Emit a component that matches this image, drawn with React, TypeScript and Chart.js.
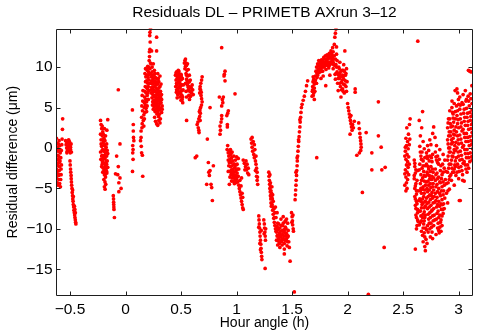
import React, { useEffect, useRef } from "react";
import { Chart, registerables } from "chart.js";

Chart.register(...registerables);

// ---- data (hour angle [h], residual difference [µm]) ----
const clusterA: number[][] = [
  [-0.622,1.2],[-0.618,0.6],[-0.612,0.1],[-0.605,-0.4],[-0.598,0.9],[-0.592,0.3],[-0.62,-0.9],[-0.614,-1.4],[-0.607,-1.9],[-0.6,-1.1],[-0.594,-2.3],[-0.588,-0.6],[-0.621,-2.6],[-0.616,-3.1],[-0.61,-2.2],[-0.603,-3.4],[-0.597,-2.8],[-0.59,-1.6],[-0.584,-3.9],[-0.619,-3.8],[-0.612,-4.3],[-0.606,-4.6],[-0.6,-3.9],[-0.593,-4.4],[-0.586,-4.8],[-0.58,-3.3],[-0.577,-2.1],[-0.574,0.4],[-0.571,1.1],[-0.568,2.3],[-0.566,3.6],[-0.578,-0.3],[-0.583,-1.2],
  [-0.615,-0.3],[-0.608,-0.9],[-0.603,-1.5],[-0.596,-1.8],[-0.61,-2.8],[-0.595,-3.3],[-0.617,-1.9],[-0.605,0.5],[-0.59,-0.2],[-0.58,-2.6],
];
const clusterB: number[][] = [
  [-0.54,0.9],[-0.535,0.4],[-0.53,0.0],[-0.525,-0.4],[-0.52,0.7],[-0.515,0.2],[-0.51,-0.3],[-0.505,0.8],[-0.5,0.3],[-0.495,-0.2],[-0.49,0.5],[-0.487,-0.5],[-0.528,-0.6],[-0.512,1.0],[-0.498,-0.6],
  [-0.52,-0.1],[-0.508,0.5],[-0.495,0.1],[-0.53,0.6],
  [-0.5,-1.6],[-0.498,-2.1],[-0.495,-2.6],[-0.493,-3.0],[-0.49,-3.4],[-0.489,-3.8],[-0.487,-4.2],[-0.485,-4.6],[-0.482,-5.0],[-0.48,-5.5],[-0.477,-5.9],[-0.475,-6.3],[-0.472,-6.6],[-0.47,-7.0],[-0.467,-7.3],[-0.464,-7.7],[-0.461,-8.0],[-0.458,-8.3],[-0.455,-8.6],[-0.452,-8.9],[-0.449,-9.2],[-0.447,-9.4],[-0.46,-7.2],[-0.47,-6.0],[-0.476,-5.2],[-0.452,-8.0],[-0.456,-7.6],
];
const clusterC: number[][] = [
  [-0.225,3.4],[-0.16,3.5],[-0.22,2.9],[-0.215,2.4],[-0.205,2.0],[-0.225,1.7],[-0.21,1.5],[-0.195,1.2],[-0.185,0.9],[-0.22,1.0],[-0.2,0.6],[-0.19,0.3],[-0.175,0.1],[-0.215,0.2],[-0.205,-0.2],[-0.195,-0.4],[-0.18,-0.6],[-0.165,-0.3],[-0.225,-0.5],[-0.21,-0.9],[-0.198,-1.1],[-0.185,-1.3],[-0.17,-1.0],[-0.16,-0.7],[-0.222,-1.4],[-0.208,-1.7],[-0.192,-1.9],[-0.178,-2.1],[-0.165,-1.6],[-0.215,-2.3],[-0.2,-2.5],[-0.188,-2.8],[-0.175,-2.6],[-0.16,-2.4],[-0.205,-3.0],[-0.19,-3.3],[-0.18,-3.6],[-0.168,-3.1],[-0.195,-3.9],[-0.185,-4.2],[-0.178,-4.5],[-0.19,-4.8],[-0.184,-5.1],[-0.2,0.9],[-0.18,1.5],[-0.17,0.5],[-0.21,2.7],[-0.168,2.2],
  [-0.22,0.5],[-0.21,-0.3],[-0.2,-1.4],[-0.19,-0.9],[-0.185,-2.3],[-0.175,-1.7],[-0.17,-2.9],[-0.195,-2.9],[-0.21,-2.0],[-0.215,-1.0],[-0.2,1.7],[-0.19,2.4],[-0.18,-0.2],[-0.17,-2.0],[-0.183,-3.3],
  [-0.11,-5.9],[-0.108,-6.3],[-0.107,-6.7],[-0.106,-7.0],[-0.105,-7.3],[-0.104,-7.6],[-0.1,-8.6],
  [-0.065,7.2],[-0.05,0.5],[-0.08,-1.0],[-0.065,-2.3],[-0.09,-3.2],[-0.07,-3.3],[-0.05,-3.7],[-0.06,-4.3],[-0.04,-5.0],[-0.06,-5.4],
];
const clusterD: number[][] = [
  [0.062,4.7],[0.07,2.9],[0.07,2.1],[0.072,1.3],[0.075,0.9],[0.065,0.3],[0.068,-0.2],[0.065,-0.6],[0.068,-1.4],[0.063,-2.9],[0.155,-3.5],
];
const clusterE: number[][] = [
  [0.135,0.9],[0.14,1.3],[0.142,0.2],[0.145,-0.6],[0.14,2.1],[0.148,2.5],[0.15,3.0],[0.145,3.8],[0.153,4.6],[0.147,5.2],[0.155,5.8],[0.15,6.5],[0.157,7.1],[0.152,-0.9],
  [0.16,3.4],[0.165,4.1],[0.168,5.0],[0.17,5.6],[0.172,6.3],[0.175,7.0],[0.178,7.6],[0.18,8.2],[0.183,8.8],[0.165,2.7],[0.17,3.6],[0.174,4.4],[0.178,5.3],[0.182,6.0],[0.185,6.8],[0.188,7.5],[0.19,8.3],[0.193,9.0],[0.195,9.6],[0.2,10.1],[0.185,4.9],[0.19,5.7],[0.195,6.5],[0.198,7.3],[0.2,8.0],[0.203,8.7],[0.207,9.4],[0.21,10.0],[0.205,6.0],[0.21,7.1],[0.175,9.2],[0.18,9.8],
  [0.213,10.8],[0.216,11.3],[0.22,12.2],[0.222,13.1],[0.218,13.9],[0.225,14.7],[0.22,14.3],[0.235,12.0],[0.215,11.9],[0.23,10.4],[0.24,10.0],
  [0.225,9.2],[0.232,8.8],[0.24,9.4],[0.248,8.6],[0.255,9.0],[0.262,8.3],[0.27,8.7],[0.278,8.1],[0.285,8.5],[0.292,7.9],[0.3,8.2],[0.31,7.6],[0.32,7.9],[0.228,8.0],[0.236,7.5],[0.244,7.9],[0.252,7.2],[0.26,7.6],[0.268,7.0],[0.276,7.4],[0.284,6.8],[0.292,7.1],[0.3,6.5],[0.308,6.9],[0.316,6.3],[0.324,6.6],[0.23,6.8],[0.238,6.2],[0.246,6.6],[0.254,5.9],[0.262,6.3],[0.27,5.7],[0.278,6.0],[0.286,5.5],[0.294,5.8],[0.302,5.2],[0.31,5.5],[0.318,4.9],[0.242,5.3],[0.25,4.8],[0.258,5.1],[0.266,4.5],[0.274,4.8],[0.282,4.2],[0.29,4.5],[0.298,3.9],[0.306,4.2],[0.314,3.6],[0.262,3.8],[0.27,3.3],[0.28,3.0],[0.29,2.8],[0.3,3.4],[0.31,3.1],[0.33,5.2],[0.325,4.4],[0.28,13.7],[0.28,12.0],[0.25,10.4],[0.26,9.6],[0.29,9.2],[0.31,8.9],
  [0.19,4.5],[0.195,5.2],[0.2,6.8],[0.205,7.6],[0.21,8.4],[0.215,9.1],[0.22,9.8],[0.225,10.5],[0.23,7.2],[0.235,8.3],[0.24,6.9],[0.245,7.4],[0.25,8.1],[0.255,6.5],[0.26,7.0],[0.265,8.0],[0.27,6.3],[0.275,7.8],[0.28,6.6],[0.285,7.2],[0.29,6.2],[0.295,6.9],[0.3,7.4],[0.305,5.9],[0.31,6.2],[0.315,7.0],[0.245,5.7],[0.255,5.5],[0.265,5.4],[0.275,5.2],[0.285,4.9],[0.295,5.1],[0.305,4.7],[0.32,5.6],[0.325,6.0],[0.33,4.8],[0.2,9.0],[0.205,9.9],[0.215,8.0],[0.245,9.0],[0.265,9.2],[0.295,8.6],
];
const clusterF: number[][] = [
  [0.45,9.0],[0.455,8.4],[0.46,9.4],[0.462,7.8],[0.468,8.8],[0.47,7.2],[0.475,9.6],[0.478,8.2],[0.48,6.8],[0.485,7.6],[0.488,9.0],[0.49,6.3],[0.495,8.4],[0.498,7.0],[0.5,5.9],[0.505,7.8],[0.508,6.5],[0.512,8.6],[0.515,5.6],[0.518,7.2],[0.452,7.6],[0.458,6.9],[0.465,6.2],[0.472,8.0],[0.482,9.2],[0.492,7.4],[0.502,8.9],[0.51,6.0],
  [0.53,10.5],[0.535,9.8],[0.54,11.0],[0.545,9.2],[0.548,10.2],[0.55,8.5],[0.553,9.6],[0.556,7.8],[0.56,8.9],[0.563,7.1],[0.566,8.2],[0.57,6.5],[0.573,7.6],[0.576,6.0],[0.58,7.0],[0.583,8.4],[0.586,6.4],[0.59,7.5],[0.595,6.8],[0.6,7.8],[0.605,7.2],[0.61,6.6],[0.54,8.0],[0.545,7.0],[0.55,6.3],[0.558,10.4],[0.565,9.7],[0.575,9.0],[0.55,3.4],
  [0.455,9.3],[0.46,8.0],[0.465,8.6],[0.47,9.0],[0.475,7.4],[0.48,8.5],[0.485,6.9],[0.49,8.7],[0.495,7.7],[0.5,6.6],[0.505,8.5],[0.51,7.1],[0.515,6.3],[0.52,7.8],[0.46,7.2],[0.47,6.6],[0.48,9.5],[0.49,8.0],[0.5,9.1],[0.54,10.1],[0.55,9.0],[0.56,8.0],[0.57,7.2],[0.58,6.4],[0.59,6.9],[0.6,7.2],[0.555,8.3],[0.565,7.5],[0.575,8.2],[0.585,7.5],[0.535,10.8],[0.545,10.5],
];
const clusterG: number[][] = [
  [0.69,8.8],[0.685,8.4],[0.678,8.0],[0.672,7.6],[0.676,7.2],[0.668,6.8],[0.68,6.5],[0.685,6.1],[0.69,5.7],[0.684,5.3],[0.676,5.0],[0.67,4.7],[0.674,4.3],[0.668,3.9],[0.66,3.6],[0.652,3.2],[0.645,2.9],[0.655,2.5],[0.66,2.2],[0.662,1.9],[0.67,7.3],[0.682,6.9],[0.665,4.5],[0.672,3.4],
  [0.761,5.0],[0.737,1.1],[0.641,-1.0],[0.628,-1.2],[0.746,-1.8],[0.791,-2.2],[0.761,-2.8],[0.755,-3.4],[0.731,-4.5],[0.776,-4.9],[0.782,-6.5],[0.77,-4.5],[0.75,-3.0],
];
const clusterH: number[][] = [
  [0.866,12.4],[0.896,9.5],[0.887,8.9],[0.896,8.3],[0.845,6.3],[0.881,6.3],[0.876,5.6],[0.866,5.2],[0.926,4.6],[0.912,4.0],[0.866,4.0],[0.866,3.6],[0.917,2.9],[0.851,2.7],[0.917,2.6],[0.851,1.7],[0.986,6.7],[0.89,9.1],[0.872,6.0],[0.92,4.3],[0.86,3.2],[0.855,2.2],
];
const clusterI: number[][] = [
  [0.92,0.3],[0.915,-0.2],[0.925,-0.6],[0.93,-1.0],[0.935,-0.4],[0.94,-1.4],[0.945,-0.8],[0.95,-1.8],[0.955,-1.2],[0.96,-2.2],[0.965,-1.6],[0.97,-2.6],[0.975,-2.0],[0.98,-3.0],[0.985,-2.4],[0.99,-3.4],[0.995,-2.8],[1.0,-3.8],[1.005,-3.1],[1.01,-4.2],[1.015,-3.5],[1.02,-2.6],[0.93,-2.2],[0.94,-2.9],[0.95,-3.3],[0.96,-3.7],[0.97,-4.1],[0.98,-4.4],[0.99,-4.0],[0.935,-4.5],[0.925,-2.9],[0.945,-0.2],[0.96,-0.5],[0.975,-1.0],[0.99,-1.5],[1.005,-2.0],[1.015,-1.3],
  [0.925,-1.5],[0.935,-1.8],[0.945,-2.3],[0.955,-2.7],[0.965,-3.1],[0.975,-3.6],[0.985,-3.8],[0.995,-4.3],[0.95,-0.7],[0.965,-2.9],[0.98,-2.0],[0.995,-2.1],[1.01,-2.6],[1.01,-3.5],[0.94,-3.6],[0.955,-4.1],[0.97,-3.4],[1.0,-1.1],
  [1.02,-4.6],[1.025,-5.0],[1.03,-5.4],[1.035,-5.8],[1.04,-6.2],[1.045,-6.6],[1.05,-7.0],[1.055,-7.4],[1.06,-7.6],[1.03,-4.0],[1.04,-4.7],[1.05,-5.6],[1.045,-3.7],[1.055,-6.1],
  [1.06,-1.5],[1.07,-1.9],[1.08,-2.3],[1.09,-2.7],[1.1,-3.1],[1.075,-2.7],[1.085,-1.6],[1.095,-2.0],[1.105,-2.5],[1.11,-3.3],
];
const clusterJ: number[][] = [
  [1.13,1.1],[1.135,0.6],[1.14,0.1],[1.145,-0.4],[1.15,0.8],[1.155,-0.8],[1.16,-1.2],[1.165,-0.2],[1.17,-1.6],[1.175,-2.0],[1.18,-2.5],[1.185,-3.0],[1.18,-3.5],[1.185,-4.0],[1.19,-4.5],[1.175,-1.0],[1.16,0.4],[1.17,-2.8],[1.188,-3.6],[1.14,1.3],
];
const clusterK: number[][] = [
  [1.2,-8.4],[1.202,-8.9],[1.205,-9.4],[1.207,-9.9],[1.21,-10.4],[1.212,-10.9],[1.215,-11.4],[1.218,-11.9],[1.22,-12.4],[1.223,-12.9],[1.226,-13.4],[1.228,-13.8],[1.21,-11.8],[1.215,-12.6],[1.222,-10.2],[1.2,-9.8],
  [1.245,-8.9],[1.25,-9.4],[1.252,-9.9],[1.255,-10.4],[1.258,-10.9],[1.26,-11.4],[1.262,-10.0],[1.248,-10.6],[1.257,-14.9],
];
const clusterL: number[][] = [
  [1.29,-3.0],[1.292,-3.5],[1.295,-4.0],[1.298,-4.5],[1.3,-5.0],[1.303,-5.4],[1.305,-5.9],[1.308,-6.3],[1.31,-6.8],[1.313,-7.2],[1.3,-3.3],[1.305,-4.3],[1.31,-5.3],[1.315,-6.1],[1.32,-7.0],[1.325,-7.7],[1.33,-8.2],[1.335,-8.7],[1.34,-9.2],[1.345,-9.6],[1.33,-6.6],[1.325,-5.8],[1.318,-4.8],[1.338,-7.5],
  [1.35,-10.0],[1.36,-10.4],[1.365,-9.7],[1.37,-10.8],[1.375,-10.1],[1.38,-11.2],[1.385,-10.5],[1.39,-9.9],[1.395,-11.0],[1.4,-10.3],[1.405,-11.6],[1.41,-10.7],[1.415,-9.6],[1.42,-11.2],[1.425,-10.4],[1.43,-11.8],[1.435,-10.9],[1.44,-9.8],[1.445,-11.4],[1.45,-10.6],[1.455,-12.1],[1.46,-11.0],[1.465,-10.2],[1.47,-11.6],[1.36,-11.4],[1.37,-12.0],[1.38,-9.4],[1.39,-12.3],[1.4,-8.8],[1.41,-12.0],[1.42,-8.5],[1.43,-12.5],[1.437,-9.1],[1.45,-8.8],[1.46,-9.3],[1.475,-12.3],[1.482,-14.0],[1.43,-13.1],[1.355,-8.6],[1.365,-8.0],[1.35,-7.3],
  [1.355,-10.3],[1.365,-10.9],[1.375,-11.5],[1.385,-11.8],[1.39,-10.7],[1.4,-11.5],[1.41,-11.3],[1.415,-10.2],[1.42,-10.8],[1.43,-10.1],[1.435,-11.4],[1.44,-10.5],[1.445,-10.0],[1.45,-11.2],[1.455,-10.8],[1.46,-11.6],[1.465,-10.9],[1.37,-9.3],[1.38,-10.0],[1.4,-9.6],[1.42,-9.3],[1.44,-9.0],[1.33,-7.3],[1.322,-6.3],[1.315,-5.6],[1.306,-4.8],[1.34,-8.6],[1.345,-8.0],
  [1.495,-8.0],[1.5,-8.5],[1.503,-9.0],[1.505,-9.5],[1.51,-10.0],[1.512,-10.3],[1.498,-9.2],[1.508,-8.3],[1.52,-17.8],
];
const clusterM: number[][] = [
  [1.527,-6.4],[1.53,-5.8],[1.532,-5.2],[1.535,-4.6],[1.537,-4.0],[1.54,-3.4],[1.542,-2.8],[1.545,-2.2],[1.547,-1.6],[1.55,-1.0],[1.553,-0.4],[1.556,0.2],[1.56,0.8],[1.563,1.4],[1.566,2.0],[1.57,2.6],[1.573,3.2],[1.577,3.8],[1.58,4.4],[1.584,5.0],[1.535,-3.0],[1.545,-1.2],[1.558,1.0],[1.57,3.5],[1.59,5.4],[1.6,5.9],[1.61,6.4],[1.62,7.0],[1.63,7.7],[1.64,8.3],
];
const clusterN: number[][] = [
  [1.68,6.4],[1.682,7.0],[1.685,7.6],[1.688,8.2],[1.69,8.8],[1.695,6.8],[1.7,7.4],[1.705,8.3],[1.71,8.9],[1.715,9.5],[1.72,10.0],[1.725,9.2],[1.73,10.4],[1.735,9.7],[1.74,10.8],[1.745,10.1],[1.75,9.4],[1.755,10.5],[1.76,9.8],[1.765,10.9],[1.77,10.2],[1.775,9.5],[1.78,10.7],[1.785,11.2],[1.79,10.0],[1.795,10.6],[1.8,11.4],[1.805,9.7],[1.81,10.9],[1.815,11.5],[1.82,10.3],[1.825,11.0],[1.83,9.9],[1.835,11.7],[1.84,10.6],[1.845,11.2],[1.85,12.0],[1.855,10.4],[1.86,11.5],[1.865,12.4],[1.87,9.8],[1.875,11.0],[1.88,12.8],[1.885,13.7],[1.89,14.2],[1.895,14.7],[1.887,9.1],[1.89,8.5],[1.895,10.3],[1.9,11.6],[1.905,9.4],[1.91,8.0],[1.915,7.1],[1.92,10.0],[1.925,8.6],[1.93,9.2],[1.935,7.6],[1.94,6.3],[1.945,8.1],[1.95,9.6],[1.955,7.3],[1.96,8.8],[1.962,7.9],[1.965,10.3],[1.97,6.8],[1.975,12.0],[1.98,9.0],[1.985,7.6],[1.99,9.8],[1.995,8.2],[1.803,7.7],[1.76,8.6],[1.78,8.9],[1.84,9.0],[1.722,-1.2],[2.068,7.3],[2.068,6.9],[1.7,6.0],[1.72,8.0],[1.87,10.6],[1.9,12.5],[1.93,10.6],[1.96,9.6],
  [1.685,7.2],[1.69,6.5],[1.695,8.5],[1.7,7.9],[1.705,7.0],[1.71,8.4],[1.715,8.0],[1.72,9.4],[1.725,8.7],[1.73,9.0],[1.735,10.2],[1.74,9.3],[1.745,9.6],[1.75,10.7],[1.755,9.9],[1.76,10.3],[1.765,9.5],[1.77,10.6],[1.775,10.0],[1.78,10.2],[1.785,10.5],[1.79,11.0],[1.795,10.2],[1.8,10.5],[1.805,11.0],[1.81,10.2],[1.815,10.7],[1.82,11.3],[1.825,10.5],[1.83,11.3],[1.835,10.2],[1.84,11.6],[1.845,10.6],[1.85,11.1],[1.855,11.8],[1.86,10.8],[1.865,11.3],[1.87,11.9],[1.875,10.3],[1.88,11.4],[1.885,10.2],[1.89,11.0],[1.895,9.2],[1.9,10.0],[1.905,10.8],[1.91,9.2],[1.915,8.6],[1.92,9.0],[1.925,9.8],[1.93,8.0],[1.935,8.8],[1.94,9.5],[1.945,7.2],[1.95,8.4],[1.955,9.0],[1.96,7.0],[1.965,8.5],[1.97,9.5],[1.975,7.8],[1.98,8.3],[1.985,9.2],[1.99,7.0],
];
const clusterO: number[][] = [
  [2.0,5.5],[2.005,5.0],[2.01,4.6],[2.015,4.2],[2.02,3.8],[2.025,3.4],[2.03,3.0],[2.035,2.6],[2.04,2.2],[2.022,1.7],[2.03,4.0],[2.045,2.9],[2.052,2.5],[2.06,3.3],[2.1,3.1],[2.105,2.4],[2.11,1.8],[2.113,1.3],[2.117,0.9],[2.12,0.5],[2.122,0.1],[2.118,-0.3],[2.106,-0.6],[2.083,-0.9],[2.167,1.9],[2.277,5.7],[2.277,1.5],[2.302,0.1],[2.218,-0.6],[2.218,-2.7],[2.308,-2.7],[2.338,-2.4],[2.133,-5.5],[2.329,-12.3],[2.187,-18.1],[2.632,13.2],
];
const clusterP: number[][] = [
  [2.563,3.6],[2.557,2.9],[2.533,2.5],[2.548,1.7],[2.525,1.2],[2.54,0.8],[2.53,0.3],[2.545,-0.1],[2.52,-0.4],[2.535,-0.8],[2.55,-1.1],[2.525,-1.4],[2.54,-1.7],[2.53,-2.1],[2.545,-2.4],[2.52,-2.7],[2.535,-3.0],[2.55,-3.3],[2.525,-3.6],[2.54,-3.9],[2.53,-4.3],[2.515,-4.6],[2.535,-5.0],[2.525,-5.3],[2.555,0.4],[2.555,-2.0],[2.515,-1.0],[2.515,-3.2],[2.56,1.1],[2.52,0.1],
];
const clusterQ: number[][] = [
  [2.6,-1.5],[2.605,-2.3],[2.61,-3.1],[2.6,-3.8],[2.615,-4.4],[2.605,-5.0],[2.62,-5.7],[2.61,-6.3],[2.625,-6.9],[2.615,-7.5],[2.63,-8.0],[2.62,-8.6],[2.635,-9.1],[2.625,-9.6],[2.61,-12.5],[2.63,-2.8],[2.625,-4.0],[2.635,-5.3],[2.64,-6.5],[2.645,-7.8],
  [2.605,-1.9],[2.615,-2.7],[2.6,-3.4],[2.61,-4.7],[2.62,-5.3],[2.605,-6.0],[2.62,-6.6],[2.61,-7.1],[2.63,-7.6],[2.615,-8.3],[2.63,-8.9],[2.62,-10.0],
  [2.675,4.5],[2.645,3.4],[2.667,2.5],[2.655,1.5],[2.68,0.8],[2.65,0.2],[2.67,-0.5],[2.69,-0.1],[2.66,-1.0],[2.68,-1.6],[2.695,-1.2],[2.65,-2.0],[2.67,-2.5],[2.685,-2.9],[2.7,-2.2],[2.66,-3.3],[2.675,-3.7],[2.69,-4.1],[2.655,-4.4],[2.68,-4.8],[2.695,-5.2],[2.665,-5.6],[2.685,-6.0],[2.65,-6.3],[2.7,-6.6],[2.67,-7.0],[2.69,-7.4],[2.655,-7.8],[2.68,-8.2],[2.695,-8.6],[2.665,-9.0],[2.646,-9.5],[2.685,-9.4],[2.69,-10.5],[2.7,-9.9],[2.71,-10.1],[2.706,-11.3],[2.7,-12.7],[2.675,-10.8],[2.66,-8.4],[2.7,-3.5],[2.66,-5.0],[2.675,-6.3],[2.69,-7.9],[2.68,-11.6],[2.695,-12.2],
  [2.655,-0.5],[2.665,-1.4],[2.645,-2.7],[2.68,-2.2],[2.69,-3.4],[2.665,-4.0],[2.7,-4.6],[2.675,-5.1],[2.655,-5.3],[2.69,-5.6],[2.66,-6.6],[2.68,-6.8],[2.7,-7.2],[2.665,-7.4],[2.675,-8.6],[2.7,-8.3],[2.655,-9.2],[2.69,-9.0],[2.68,-9.9],[2.665,-10.3],[2.695,-11.0],[2.715,-11.8],
  [2.71,-0.6],[2.73,-0.3],[2.75,0.4],[2.72,-1.3],[2.74,-1.0],[2.76,-1.7],[2.71,-2.0],[2.73,-2.6],[2.75,-2.3],[2.77,-3.0],[2.72,-3.3],[2.74,-3.8],[2.76,-3.5],[2.71,-4.2],[2.73,-4.6],[2.75,-4.9],[2.77,-4.4],[2.72,-5.4],[2.74,-5.8],[2.76,-5.5],[2.78,-6.0],[2.71,-6.2],[2.73,-6.7],[2.75,-7.1],[2.77,-6.8],[2.72,-7.5],[2.74,-8.0],[2.76,-7.7],[2.78,-8.3],[2.73,-8.8],[2.75,-9.3],[2.77,-9.0],[2.74,-10.0],[2.76,-10.4],[2.72,-9.6],[2.775,2.6],[2.766,1.8],[2.787,1.3],[2.74,1.0],[2.72,0.3],[2.765,-0.8],[2.745,-11.0],[2.796,-10.7],
  [2.715,-1.0],[2.735,-1.6],[2.755,-1.2],[2.725,-2.3],[2.745,-2.9],[2.765,-2.6],[2.715,-3.0],[2.735,-3.4],[2.755,-3.9],[2.775,-3.7],[2.725,-4.1],[2.745,-4.4],[2.765,-4.8],[2.715,-5.0],[2.735,-5.2],[2.755,-5.9],[2.775,-5.2],[2.725,-6.0],[2.745,-6.4],[2.765,-6.2],[2.785,-6.7],[2.715,-6.9],[2.735,-7.3],[2.755,-7.8],[2.775,-7.5],[2.725,-8.2],[2.745,-8.6],[2.765,-8.4],[2.785,-8.9],[2.735,-9.3],[2.755,-9.8],[2.775,-9.6],[2.765,-11.2],[2.725,-10.4],
  [2.79,-0.5],[2.8,-1.5],[2.81,-1.0],[2.82,-2.0],[2.79,-2.6],[2.805,-3.1],[2.82,-3.6],[2.835,-2.8],[2.85,-3.3],[2.79,-4.0],[2.805,-4.5],[2.82,-5.0],[2.835,-4.3],[2.85,-4.8],[2.865,-5.3],[2.79,-5.6],[2.805,-6.1],[2.82,-6.6],[2.835,-5.9],[2.85,-6.4],[2.865,-6.9],[2.8,-7.3],[2.815,-7.8],[2.83,-8.3],[2.845,-7.6],[2.856,-7.6],[2.86,-8.1],[2.8,-8.8],[2.815,-9.3],[2.83,-9.8],[2.841,-10.3],[2.841,-8.9],[2.825,-10.5],[2.87,-2.5],[2.88,-3.9],[2.875,-1.5],[2.86,-0.8],[2.901,-6.8],[2.916,-5.1],[2.89,-4.4],[2.8,0.3],[2.83,-0.2],
  [2.795,-1.1],[2.81,-1.8],[2.825,-1.4],[2.84,-2.2],[2.855,-2.0],[2.795,-3.3],[2.81,-3.8],[2.83,-4.2],[2.845,-3.8],[2.86,-4.2],[2.87,-4.6],[2.795,-4.8],[2.81,-5.4],[2.828,-5.6],[2.845,-5.3],[2.86,-5.8],[2.875,-6.2],[2.795,-6.5],[2.81,-7.0],[2.828,-7.2],[2.84,-6.9],[2.855,-7.0],[2.87,-7.5],[2.805,-8.1],[2.82,-8.6],[2.835,-9.2],[2.85,-8.4],[2.81,-9.9],[2.82,-10.2],[2.85,-9.6],[2.86,-3.0],[2.885,-2.9],[2.89,-5.6],
];
const clusterR: number[][] = [
  [3.088,9.6],[3.112,9.4],[3.1,9.5],[2.984,7.3],[2.968,7.1],[2.998,6.0],[2.939,5.0],[3.119,7.7],[3.104,6.7],[2.908,3.6],[2.903,-5.3],[3.014,-6.5],[3.05,-4.1],[3.036,-4.0],[3.006,-6.5],[3.127,1.5],[3.125,-1.0],[2.99,6.8],[3.01,6.3],[3.04,6.6],[3.07,6.0],[3.09,5.8],[3.12,5.5],
  [2.9,2.5],[2.91,1.5],[2.905,0.5],[2.915,-0.5],[2.9,-1.5],[2.91,-2.5],[2.92,-3.5],[2.905,-4.3],[2.925,3.0],[2.93,2.0],[2.935,1.0],[2.92,0.0],[2.94,-1.0],[2.93,-2.0],[2.945,-3.0],[2.95,4.2],[2.955,3.2],[2.96,2.2],[2.95,1.2],[2.965,0.3],[2.955,-0.6],[2.97,-1.6],[2.96,-2.6],[2.975,-3.4],[2.98,5.2],[2.985,4.0],[2.99,3.0],[2.98,2.0],[2.995,1.0],[2.985,0.0],[3.0,-1.0],[2.99,-2.0],[3.005,-2.9],[3.01,4.8],[3.015,3.6],[3.02,2.6],[3.01,1.6],[3.025,0.6],[3.015,-0.4],[3.03,-1.4],[3.02,-2.3],[3.04,5.4],[3.045,4.3],[3.05,3.3],[3.04,2.3],[3.055,1.3],[3.045,0.3],[3.06,-0.7],[3.05,-1.7],[3.065,-2.6],[3.07,4.9],[3.075,3.8],[3.08,2.8],[3.07,1.8],[3.085,0.8],[3.075,-0.2],[3.09,-1.2],[3.08,-2.1],[3.1,4.4],[3.105,3.4],[3.11,2.4],[3.1,1.4],[3.115,0.4],[3.105,-0.6],[3.12,-1.5],[3.125,3.0],[3.128,4.2],[3.128,0.8],[3.095,5.2],[3.065,5.8],[3.035,-3.3],[3.0,-3.8],[2.96,-4.6],[2.935,-4.0],[2.94,5.8],[3.06,7.1],[2.92,4.6],
  [2.905,3.1],[2.915,2.0],[2.9,1.0],[2.91,0.0],[2.905,-1.0],[2.915,-2.0],[2.9,-3.0],[2.915,-3.9],[2.92,3.6],[2.93,2.6],[2.925,1.5],[2.935,0.5],[2.925,-0.5],[2.935,-1.5],[2.94,-2.5],[2.93,-3.3],[2.945,4.4],[2.95,3.7],[2.945,2.7],[2.955,1.7],[2.945,0.7],[2.96,-0.2],[2.95,-1.1],[2.965,-2.1],[2.955,-3.0],[2.97,3.6],[2.975,2.6],[2.965,1.6],[2.975,0.7],[2.97,-0.3],[2.98,-1.2],[2.97,-2.3],[2.985,-3.0],[2.99,4.6],[2.995,3.5],[3.0,2.5],[2.99,1.5],[3.0,0.5],[2.995,-0.5],[3.01,-1.5],[3.0,-2.4],[3.02,4.2],[3.025,3.1],[3.03,2.1],[3.02,1.1],[3.035,0.1],[3.025,-0.9],[3.04,-1.9],[3.03,-2.8],[3.05,4.8],[3.055,3.8],[3.06,2.8],[3.05,1.8],[3.065,0.8],[3.055,-0.2],[3.07,-1.2],[3.06,-2.1],[3.075,-3.0],[3.08,4.3],[3.085,3.3],[3.09,2.3],[3.08,1.3],[3.095,0.3],[3.085,-0.7],[3.1,-1.7],[3.09,-2.5],[3.11,3.9],[3.115,2.9],[3.12,1.9],[3.11,0.9],[3.125,-0.1],[3.115,-1.1],[3.12,4.7],[3.11,6.1],[3.085,6.4],[3.03,5.6],[3.0,5.4],[2.96,5.5],[2.97,4.5],[3.015,5.3],
];

const xTicks = [-0.5, 0, 0.5, 1, 1.5, 2, 2.5, 3];
const yTicks = [-15, -10, -5, 0, 5, 10];
const xLimits = [-0.626, 3.129];
const yLimits = [-18.27, 14.76];

const titleText = "Residuals DL \u2013 PRIMETB AXrun 3\u201312";
const xLabel = "Hour angle (h)";
const yLabel = "Residual difference (\u03bcm)";

const FONT = "'Liberation Sans', Arial, Helvetica, sans-serif";
const fmt = (v: number) => (v < 0 ? "\u2212" + String(-v) : String(v));

const boxPlugin = {
  id: "matlabBox",
  afterDatasetsDraw(chart: any) {
    const { ctx, chartArea: a, scales } = chart;
    const L = Math.round(a.left) + 0.5;
    const R = Math.round(a.right) - 0.5;
    const T = Math.round(a.top) + 0.5;
    const B = Math.round(a.bottom) - 0.5;
    ctx.save();
    ctx.strokeStyle = "#1e1e1e";
    ctx.lineWidth = 1;
    ctx.beginPath();
    ctx.rect(L, T, R - L, B - T);
    const tl = 4;
    for (const v of xTicks) {
      const x = Math.round(scales.x.getPixelForValue(v)) + 0.5;
      ctx.moveTo(x, B); ctx.lineTo(x, B - tl);
      ctx.moveTo(x, T); ctx.lineTo(x, T + tl);
    }
    for (const v of yTicks) {
      const y = Math.round(scales.y.getPixelForValue(v)) + 0.5;
      ctx.moveTo(L, y); ctx.lineTo(L + tl, y);
      ctx.moveTo(R, y); ctx.lineTo(R - tl, y);
    }
    ctx.stroke();
    ctx.restore();
  },
};

export default function App() {
  const ref = useRef<HTMLCanvasElement | null>(null);
  useEffect(() => {
    if (!ref.current) return;
    const all = [
      ...clusterA, ...clusterB, ...clusterC, ...clusterD, ...clusterE, ...clusterF,
      ...clusterG, ...clusterH, ...clusterI, ...clusterJ, ...clusterK, ...clusterL,
      ...clusterM, ...clusterN, ...clusterO, ...clusterP, ...clusterQ, ...clusterR,
    ].map(([x, y]) => ({ x, y }));
    const chart = new Chart(ref.current, {
      type: "scatter",
      data: {
        datasets: [
          {
            data: all,
            backgroundColor: "#ff0000",
            borderWidth: 0,
            pointRadius: 1.85,
            pointHoverRadius: 1.85,
            clip: 0,
          } as any,
        ],
      },
      options: {
        animation: false,
        responsive: false,
        devicePixelRatio: 1,
        layout: { padding: { left: 0, right: 6, top: 0, bottom: 0 } },
        plugins: {
          legend: { display: false },
          tooltip: { enabled: false },
          title: {
            display: true,
            text: titleText,
            fullSize: false,
            color: "#000",
            font: { family: FONT, size: 15.5, weight: "normal" },
            padding: { top: 3, bottom: 7 },
          },
        },
        scales: {
          x: {
            type: "linear",
            min: xLimits[0],
            max: xLimits[1],
            afterBuildTicks: (s: any) => { s.ticks = xTicks.map((v) => ({ value: v })); },
            afterFit: (s: any) => { s.height = 37.3; },
            grid: { display: false, drawTicks: false },
            border: { display: false },
            ticks: {
              color: "#000",
              font: { family: FONT, size: 15.5 },
              padding: 5,
              maxRotation: 0,
              autoSkip: false,
              callback: (v: any) => fmt(Number(v)),
            },
            title: {
              display: true,
              text: xLabel,
              color: "#000",
              font: { family: FONT, size: 14 },
              padding: { top: 0, bottom: 1.5 },
            },
          },
          y: {
            type: "linear",
            min: yLimits[0],
            max: yLimits[1],
            afterBuildTicks: (s: any) => { s.ticks = yTicks.map((v) => ({ value: v })); },
            afterFit: (s: any) => { s.width = 56; },
            grid: { display: false, drawTicks: false },
            border: { display: false },
            ticks: {
              color: "#000",
              font: { family: FONT, size: 15.5 },
              padding: 3.5,
              autoSkip: false,
              callback: (v: any) => fmt(Number(v)),
            },
            title: {
              display: true,
              text: yLabel,
              color: "#000",
              font: { family: FONT, size: 14 },
              padding: { top: 5, bottom: 0 },
            },
          },
        },
      },
      plugins: [boxPlugin],
    });
    return () => chart.destroy();
  }, []);
  return (
    <div style={{ position: "absolute", left: 0, top: 0, width: 479, height: 333, background: "#fff" }}>
      <canvas ref={ref} width={479} height={333} />
    </div>
  );
}
